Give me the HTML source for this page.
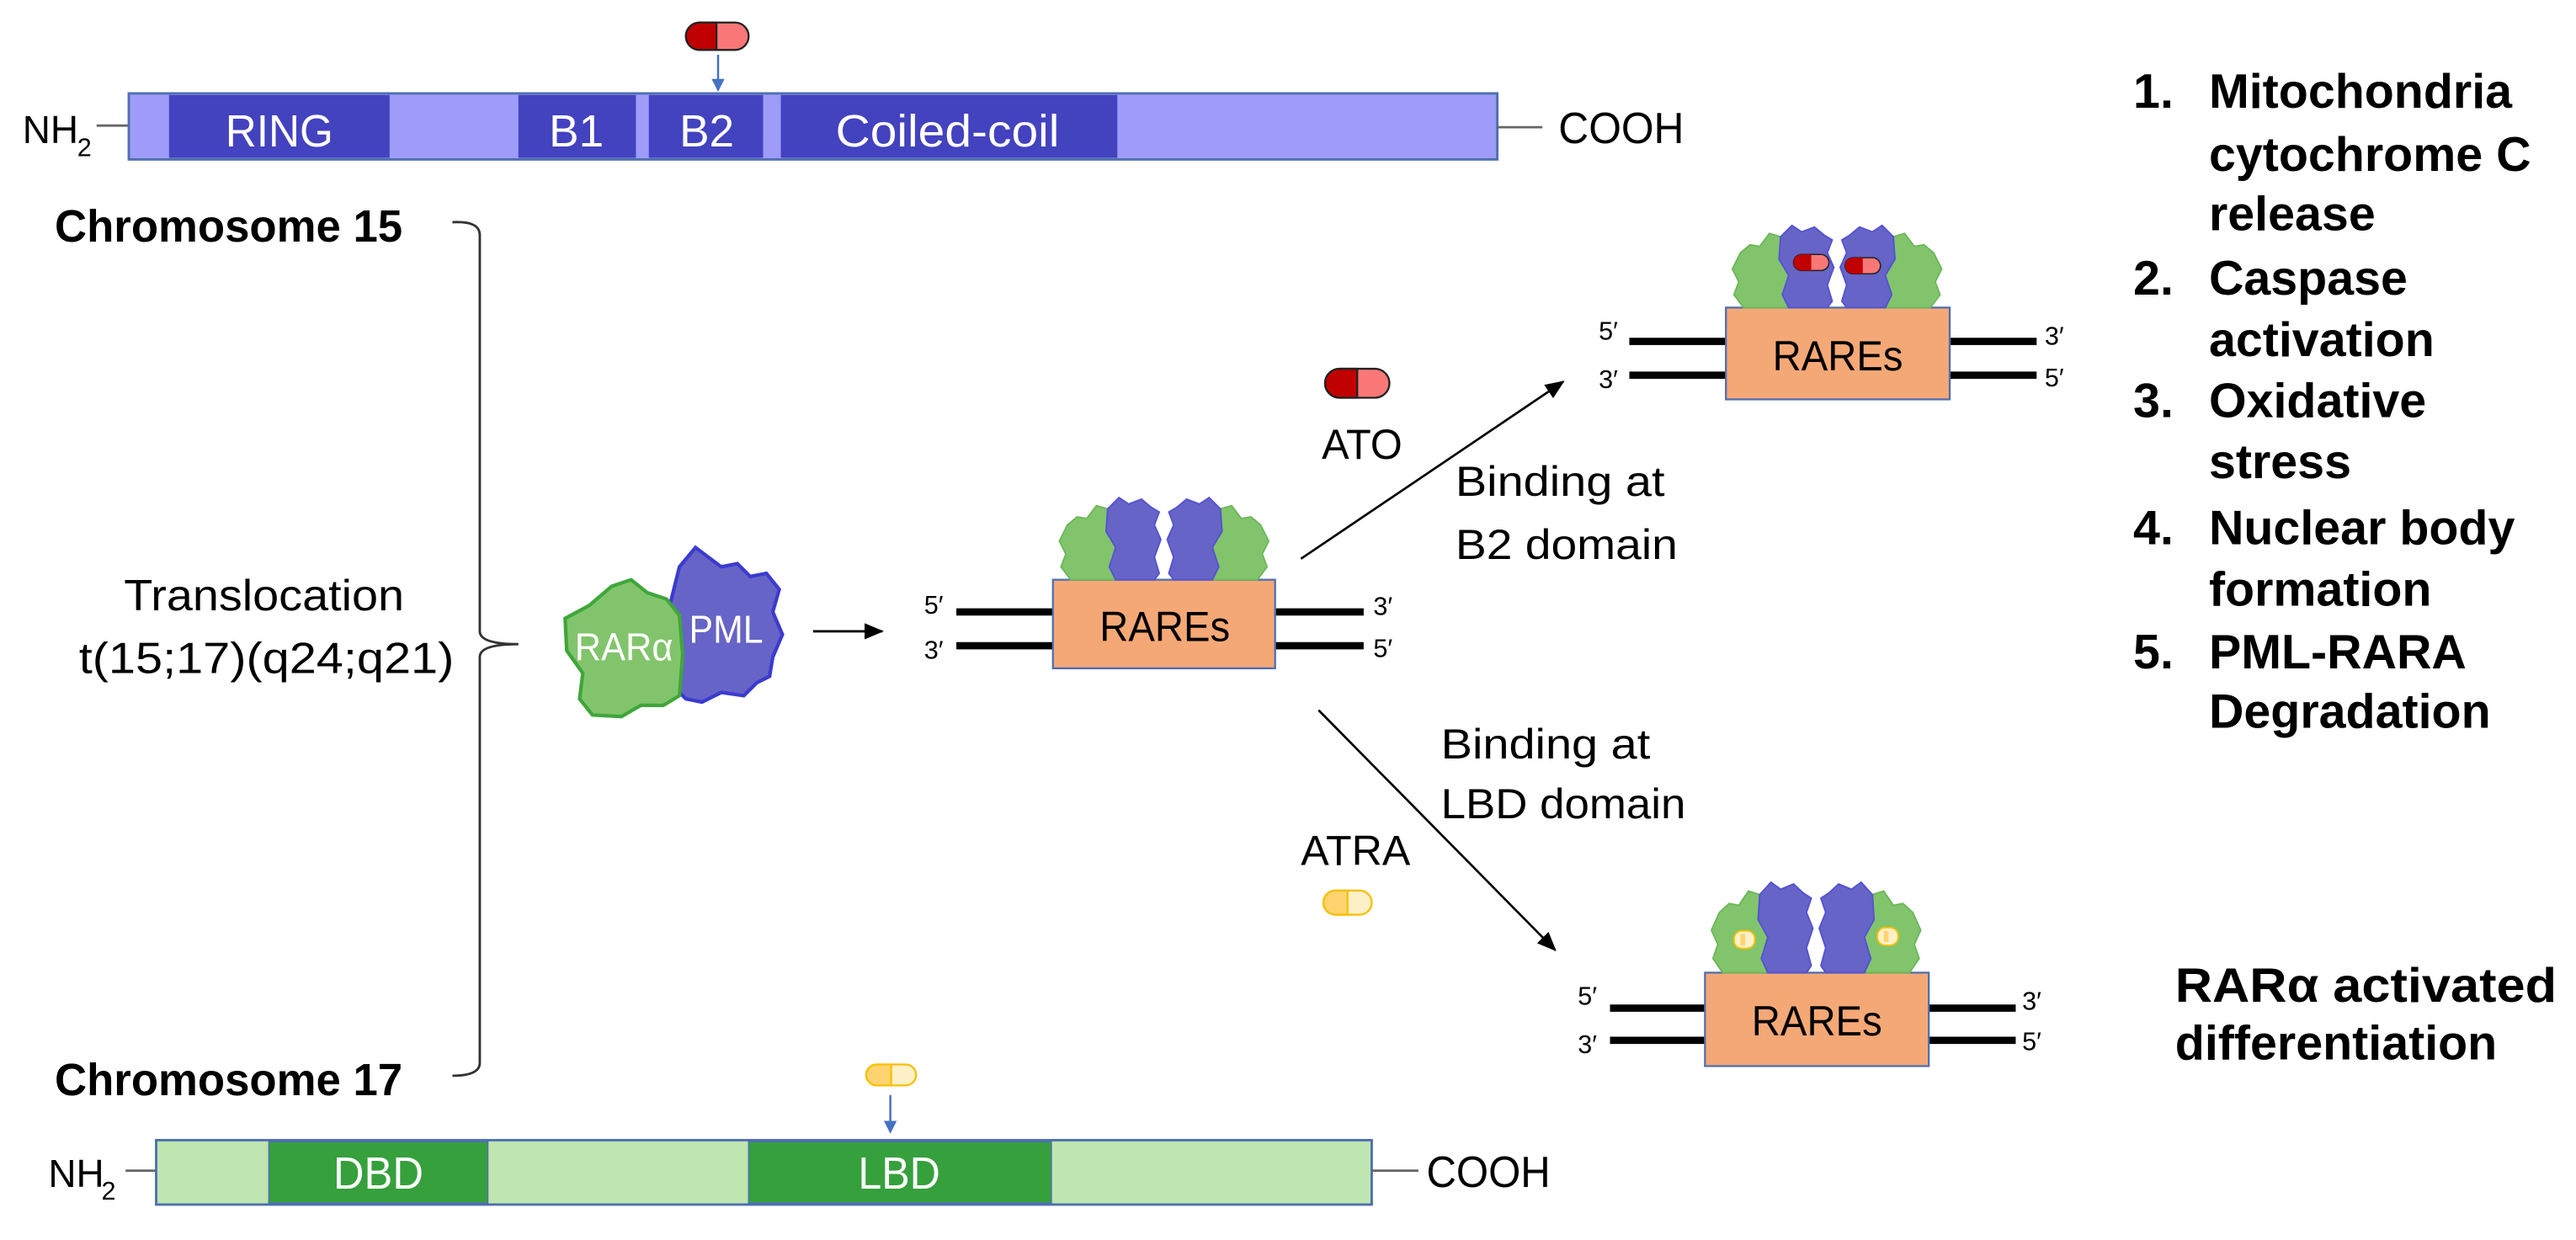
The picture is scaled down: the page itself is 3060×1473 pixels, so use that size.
<!DOCTYPE html>
<html><head><meta charset="utf-8"><style>
html,body{margin:0;padding:0;background:#fff;}
svg{display:block;}
text{font-family:"Liberation Sans",sans-serif;}
</style></head><body>
<svg width="3060" height="1473" viewBox="0 0 1600 770" preserveAspectRatio="none" xmlns="http://www.w3.org/2000/svg">
<defs>
<marker id="ah" markerWidth="12" markerHeight="10" refX="11" refY="5" orient="auto" markerUnits="userSpaceOnUse"><path d="M0,0 L12,5 L0,10 Z" fill="#000"/></marker>
<marker id="bh" markerWidth="8" markerHeight="10" refX="7" refY="5" orient="auto" markerUnits="userSpaceOnUse"><path d="M0,1 L8,5 L0,9 Z" fill="#4472c4"/></marker>
<g id="gL"><path d="M-60,-34 L-54,-39 L-48,-38 L-42,-46 L-35,-44 L-30,-39 L-25,-37 L-23,-26 L-25,-16 L-22,-6 L-25,0 L-58,0 L-64,-8 L-61,-16 L-65,-24 Z" fill="#82c46c" stroke="#6cb85a" stroke-width="1"/></g>
<g id="bL"><path d="M-35,-44 L-28,-51 L-22,-47 L-14,-50 L-8,-45 L-3,-42 L-6,-34 L-2,-25 L-6,-14 L-3,-4 L-6,0 L-30,0 L-34,-8 L-30,-20 L-36,-30 Z" fill="#6664c6" stroke="#5553d0" stroke-width="1"/></g>
</defs>

<!-- PML bar -->
<line x1="60" y1="78" x2="80" y2="78" stroke="#666" stroke-width="1.5"/>
<text x="14" y="89" font-size="24">NH</text><text x="48" y="97" font-size="16">2</text>
<rect x="80" y="58" width="850" height="41" fill="#9e9cf8" stroke="#4f6fb0" stroke-width="1.5"/>
<rect x="105" y="59" width="137" height="39" fill="#4342bf"/>
<rect x="322" y="59" width="73" height="39" fill="#4342bf"/>
<rect x="403" y="59" width="71" height="39" fill="#4342bf"/>
<rect x="485" y="59" width="209" height="39" fill="#4342bf"/>
<g fill="#fff" font-size="28">
<text x="140" y="91" textLength="67" lengthAdjust="spacingAndGlyphs">RING</text>
<text x="341" y="91" textLength="34" lengthAdjust="spacingAndGlyphs">B1</text>
<text x="422" y="91" textLength="34" lengthAdjust="spacingAndGlyphs">B2</text>
<text x="519" y="91" textLength="139" lengthAdjust="spacingAndGlyphs">Coiled-coil</text></g>
<line x1="930" y1="79" x2="958" y2="79" stroke="#666" stroke-width="1.5"/>
<text x="968" y="89" font-size="27" textLength="78" lengthAdjust="spacingAndGlyphs">COOH</text>
<g><rect x="426" y="14" width="39" height="17" rx="8.5" fill="#f97777" stroke="#222" stroke-width="1.2"/><path d="M445,14 L434.5,14 A8.5,8.5 0 0 0 434.5,31 L445,31 Z" fill="#c00000" stroke="#222" stroke-width="1.2"/></g>
<line x1="446" y1="34" x2="446" y2="56" stroke="#4472c4" stroke-width="1.3" marker-end="url(#bh)"/>

<!-- Chromosome labels and bracket -->
<text x="34" y="150" font-size="28" font-weight="bold" textLength="216" lengthAdjust="spacingAndGlyphs">Chromosome 15</text>
<text x="34" y="680" font-size="28" font-weight="bold" textLength="216" lengthAdjust="spacingAndGlyphs">Chromosome 17</text>
<path d="M281,138 Q298,137 298,146 L298,392 Q298,400 322,400 Q298,400 298,408 L298,660 Q298,668 281,668" fill="none" stroke="#333" stroke-width="1.5"/>
<text x="77" y="379" font-size="27" textLength="174" lengthAdjust="spacingAndGlyphs">Translocation</text>
<text x="49" y="418" font-size="27" textLength="233" lengthAdjust="spacingAndGlyphs">t(15;17)(q24;q21)</text>

<!-- RARa/PML fusion -->
<path d="M422,352 L432,340 L440,346 L448,352 L458,350 L466,358 L476,356 L484,366 L480,380 L486,394 L480,408 L478,420 L470,424 L462,432 L448,430 L436,436 L426,434 L416,424 L414,400 L416,376 Z" fill="#6664c6" stroke="#3b3bd0" stroke-width="2.2"/>
<path d="M380,364 L392,360 L402,368 L414,372 L422,382 L424,406 L422,432 L412,438 L398,438 L386,445 L368,444 L360,434 L362,418 L352,404 L351,384 L366,376 Z" fill="#82c46c" stroke="#3fa63a" stroke-width="2.2"/>
<text x="357" y="410" font-size="24" fill="#fff" textLength="61" lengthAdjust="spacingAndGlyphs">RARα</text>
<text x="428" y="399" font-size="24" fill="#fff" textLength="46" lengthAdjust="spacingAndGlyphs">PML</text>
<line x1="505" y1="392" x2="548" y2="392" stroke="#000" stroke-width="1.5" marker-end="url(#ah)"/>

<!-- middle DNA -->
<line x1="594" y1="380" x2="654" y2="380" stroke="#000" stroke-width="4.5"/>
<line x1="594" y1="401" x2="654" y2="401" stroke="#000" stroke-width="4.5"/>
<line x1="792" y1="380" x2="847" y2="380" stroke="#000" stroke-width="4.5"/>
<line x1="792" y1="401" x2="847" y2="401" stroke="#000" stroke-width="4.5"/>
<rect x="654" y="360" width="138" height="55" fill="#f4a876" stroke="#4f6fb0" stroke-width="1.2"/>
<text x="683" y="398" font-size="26" textLength="81" lengthAdjust="spacingAndGlyphs">RAREs</text>
<g font-size="16"><text x="574" y="381">5′</text><text x="574" y="409">3′</text><text x="853" y="382">3′</text><text x="853" y="408">5′</text></g>
<g transform="translate(723,360)">
<use href="#gL"/><use href="#gL" transform="scale(-1,1)"/><use href="#bL"/><use href="#bL" transform="scale(-1,1)"/>
</g>

<!-- upper arrow -->
<line x1="808" y1="347" x2="971" y2="237" stroke="#000" stroke-width="1.4" marker-end="url(#ah)"/>
<g><rect x="823" y="229" width="40" height="18" rx="9" fill="#f97777" stroke="#222" stroke-width="1.2"/><path d="M843,229 L832,229 A9,9 0 0 0 832,247 L843,247 Z" fill="#c00000" stroke="#222" stroke-width="1.2"/></g>
<text x="821" y="285" font-size="26" textLength="50" lengthAdjust="spacingAndGlyphs">ATO</text>
<text x="904" y="308" font-size="26" textLength="130" lengthAdjust="spacingAndGlyphs">Binding at</text>
<text x="904" y="347" font-size="26" textLength="138" lengthAdjust="spacingAndGlyphs">B2 domain</text>

<!-- top right DNA -->
<line x1="1012" y1="212" x2="1072" y2="212" stroke="#000" stroke-width="4.5"/>
<line x1="1012" y1="233" x2="1072" y2="233" stroke="#000" stroke-width="4.5"/>
<line x1="1211" y1="212" x2="1265" y2="212" stroke="#000" stroke-width="4.5"/>
<line x1="1211" y1="233" x2="1265" y2="233" stroke="#000" stroke-width="4.5"/>
<rect x="1072" y="191" width="139" height="57" fill="#f4a876" stroke="#4f6fb0" stroke-width="1.2"/>
<text x="1101" y="230" font-size="26" textLength="81" lengthAdjust="spacingAndGlyphs">RAREs</text>
<g font-size="16"><text x="993" y="211">5′</text><text x="993" y="241">3′</text><text x="1270" y="214">3′</text><text x="1270" y="240">5′</text></g>
<g transform="translate(1141,191)">
<use href="#gL"/><use href="#gL" transform="scale(-1,1)"/><use href="#bL"/><use href="#bL" transform="scale(-1,1)"/>
<rect x="-27" y="-33" width="22" height="10" rx="5" fill="#f97777" stroke="#222" stroke-width="0.8"/><path d="M-16,-33 L-22,-33 A5,5 0 0 0 -22,-23 L-16,-23 Z" fill="#c00000"/>
<rect x="5" y="-31" width="22" height="10" rx="5" fill="#f97777" stroke="#222" stroke-width="0.8"/><path d="M16,-31 L10,-31 A5,5 0 0 0 10,-21 L16,-21 Z" fill="#c00000"/>
</g>

<!-- lower arrow -->
<line x1="819" y1="441" x2="966" y2="590" stroke="#000" stroke-width="1.4" marker-end="url(#ah)"/>
<text x="895" y="471" font-size="26" textLength="130" lengthAdjust="spacingAndGlyphs">Binding at</text>
<text x="895" y="508" font-size="26" textLength="152" lengthAdjust="spacingAndGlyphs">LBD domain</text>
<text x="808" y="537" font-size="26" textLength="68" lengthAdjust="spacingAndGlyphs">ATRA</text>
<g><rect x="822" y="553" width="30" height="15" rx="7.5" fill="#fff0c8" stroke="#f5c000" stroke-width="1.2"/><path d="M837,553 L829.5,553 A7.5,7.5 0 0 0 829.5,568 L837,568 Z" fill="#ffd470" stroke="#f5c000" stroke-width="1.2"/></g>

<!-- bottom right DNA -->
<line x1="1000" y1="626" x2="1059" y2="626" stroke="#000" stroke-width="4.5"/>
<line x1="1000" y1="646" x2="1059" y2="646" stroke="#000" stroke-width="4.5"/>
<line x1="1198" y1="626" x2="1252" y2="626" stroke="#000" stroke-width="4.5"/>
<line x1="1198" y1="646" x2="1252" y2="646" stroke="#000" stroke-width="4.5"/>
<rect x="1059" y="604" width="139" height="58" fill="#f4a876" stroke="#4f6fb0" stroke-width="1.2"/>
<text x="1088" y="643" font-size="26" textLength="81" lengthAdjust="spacingAndGlyphs">RAREs</text>
<g font-size="16"><text x="980" y="624">5′</text><text x="980" y="654">3′</text><text x="1256" y="627">3′</text><text x="1256" y="652">5′</text></g>
<g transform="translate(1128,604)">
<g transform="scale(1,1.1)"><use href="#gL"/><use href="#gL" transform="scale(-1,1)"/><use href="#bL"/><use href="#bL" transform="scale(-1,1)"/></g>
<rect x="-51" y="-26" width="13" height="11" rx="5" fill="#fff0c8" stroke="#f5c000" stroke-width="1"/><rect x="-47" y="-24" width="3" height="7" fill="#ffd470"/>
<rect x="38" y="-28" width="13" height="11" rx="5" fill="#fff0c8" stroke="#f5c000" stroke-width="1"/><rect x="42" y="-26" width="3" height="7" fill="#ffd470"/>
</g>

<!-- right list -->
<g font-size="30" font-weight="bold">
<text x="1325" y="67">1.</text><text x="1372" y="67">Mitochondria</text>
<text x="1372" y="106">cytochrome C</text>
<text x="1372" y="143">release</text>
<text x="1325" y="183">2.</text><text x="1372" y="183">Caspase</text>
<text x="1372" y="221">activation</text>
<text x="1325" y="259">3.</text><text x="1372" y="259">Oxidative</text>
<text x="1372" y="297">stress</text>
<text x="1325" y="338">4.</text><text x="1372" y="338">Nuclear body</text>
<text x="1372" y="376">formation</text>
<text x="1325" y="415">5.</text><text x="1372" y="415">PML-RARA</text>
<text x="1372" y="452">Degradation</text>
<text x="1351" y="622" textLength="237" lengthAdjust="spacingAndGlyphs">RARα activated</text>
<text x="1351" y="658">differentiation</text>
</g>

<!-- RARa bar bottom -->
<line x1="78" y1="727" x2="97" y2="727" stroke="#666" stroke-width="1.5"/>
<text x="30" y="737" font-size="24">NH</text><text x="63" y="745" font-size="16">2</text>
<rect x="97" y="708" width="755" height="40" fill="#bfe6b0" stroke="#4f6fb0" stroke-width="1.5"/>
<rect x="167" y="709" width="136" height="38" fill="#36a03c" stroke="#4f6fb0" stroke-width="0.8"/>
<rect x="465" y="709" width="188" height="38" fill="#36a03c" stroke="#4f6fb0" stroke-width="0.8"/>
<g fill="#fff" font-size="28"><text x="207" y="738" textLength="56" lengthAdjust="spacingAndGlyphs">DBD</text><text x="533" y="738" textLength="51" lengthAdjust="spacingAndGlyphs">LBD</text></g>
<line x1="852" y1="727" x2="881" y2="727" stroke="#666" stroke-width="1.5"/>
<text x="886" y="737" font-size="27" textLength="77" lengthAdjust="spacingAndGlyphs">COOH</text>
<g><rect x="538" y="661" width="31" height="13" rx="6.5" fill="#fff0c8" stroke="#f5c000" stroke-width="1.2"/><path d="M553.5,661 L544.5,661 A6.5,6.5 0 0 0 544.5,674 L553.5,674 Z" fill="#ffd470" stroke="#f5c000" stroke-width="1.2"/></g>
<line x1="553" y1="680" x2="553" y2="703" stroke="#4472c4" stroke-width="1.3" marker-end="url(#bh)"/>
</svg>
</body></html>
